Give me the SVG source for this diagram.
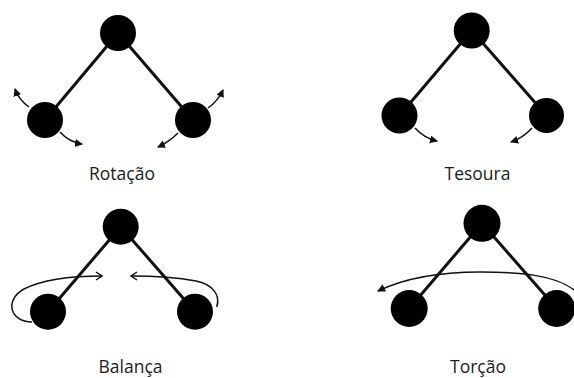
<svg xmlns="http://www.w3.org/2000/svg" width="574" height="378" viewBox="0 0 574 378">
  <style>
    .atom { fill: #000; }
    .bond { stroke: #111; stroke-width: 3; stroke-linecap: round; fill: none; }
    .motion { stroke: #111; stroke-width: 1.5; fill: none; }
    .solid { marker-end: url(#headSolid); }
    .open { marker-end: url(#headOpen); }
    .label { font-family: "Open Sans", "Liberation Sans", sans-serif; font-size: 17.5px; fill: #1c1c1c; text-anchor: middle; }
  </style>
  <defs>
    <marker id="headSolid" markerUnits="userSpaceOnUse" markerWidth="10" markerHeight="10" refX="7" refY="4" orient="auto">
      <path d="M0,0 L8,4 L0,8 Z" fill="#111"/>
    </marker>
    <marker id="headOpen" markerUnits="userSpaceOnUse" markerWidth="12" markerHeight="12" refX="7" refY="5" orient="auto">
      <path d="M1,1 L7,5 L1,9" fill="none" stroke="#111" stroke-width="1.5"/>
    </marker>
  </defs>

  <!-- bonds -->
  <g id="connectors">
    <line class="bond" x1="118" y1="33" x2="45" y2="120"/>
    <line class="bond" x1="118" y1="33" x2="193" y2="120"/>
    <line class="bond" x1="471.7" y1="30.5" x2="399.5" y2="115.5"/>
    <line class="bond" x1="471.7" y1="30.5" x2="546.5" y2="115.5"/>
    <line class="bond" x1="120.7" y1="226.7" x2="48" y2="311.7"/>
    <line class="bond" x1="120.7" y1="226.7" x2="195" y2="311.7"/>
    <line class="bond" x1="482" y1="223.3" x2="409.2" y2="308.5"/>
    <line class="bond" x1="482" y1="223.3" x2="556.7" y2="308.5"/>
  </g>

  <!-- Rotação -->
  <g id="rotacao">
    <circle class="atom" cx="118" cy="33" r="18"/>
    <circle class="atom" cx="45" cy="120" r="18"/>
    <circle class="atom" cx="193" cy="120" r="18"/>
    <path class="motion solid" d="M29,107 Q19,100 15,89"/>
    <path class="motion solid" d="M60,132 Q69,142 82,144"/>
    <path class="motion solid" d="M208,108 Q218,101 223,90"/>
    <path class="motion solid" d="M178,133 Q169,142 158,147"/>
    <text class="label" x="122" y="180">Rotação</text>
  </g>

  <!-- Tesoura -->
  <g id="tesoura">
    <circle class="atom" cx="471.7" cy="30.5" r="18"/>
    <circle class="atom" cx="399.5" cy="115.5" r="18"/>
    <circle class="atom" cx="546.5" cy="115.5" r="17.5"/>
    <path class="motion solid" d="M415,128 Q424,138 437,141"/>
    <path class="motion solid" d="M532,128 Q523,138 511,142"/>
    <text class="label" x="477.5" y="180">Tesoura</text>
  </g>

  <!-- Balança -->
  <g id="balanca">
    <circle class="atom" cx="120.7" cy="226.7" r="18"/>
    <circle class="atom" cx="48" cy="311.7" r="18"/>
    <circle class="atom" cx="195" cy="311.7" r="18"/>
    <path class="motion open" d="M32,322 C10,322 4,300 24,289 C44,279 75,276 102,276"/>
    <path class="motion open" d="M216.7,307 C221,295 212,284 196,281 C180,278 155,276 131,276"/>
    <text class="label" x="130.5" y="373">Balança</text>
  </g>

  <!-- Torção -->
  <g id="torcao">
    <circle class="atom" cx="482" cy="223.3" r="18.5"/>
    <circle class="atom" cx="409.2" cy="308.5" r="18.5"/>
    <circle class="atom" cx="556.7" cy="308.5" r="18.5"/>
    <path class="motion solid" d="M574,290 C555,275 520,272 480,272 C440,272 405,278 378,291"/>
    <text class="label" x="478" y="373">Torção</text>
  </g>
</svg>
